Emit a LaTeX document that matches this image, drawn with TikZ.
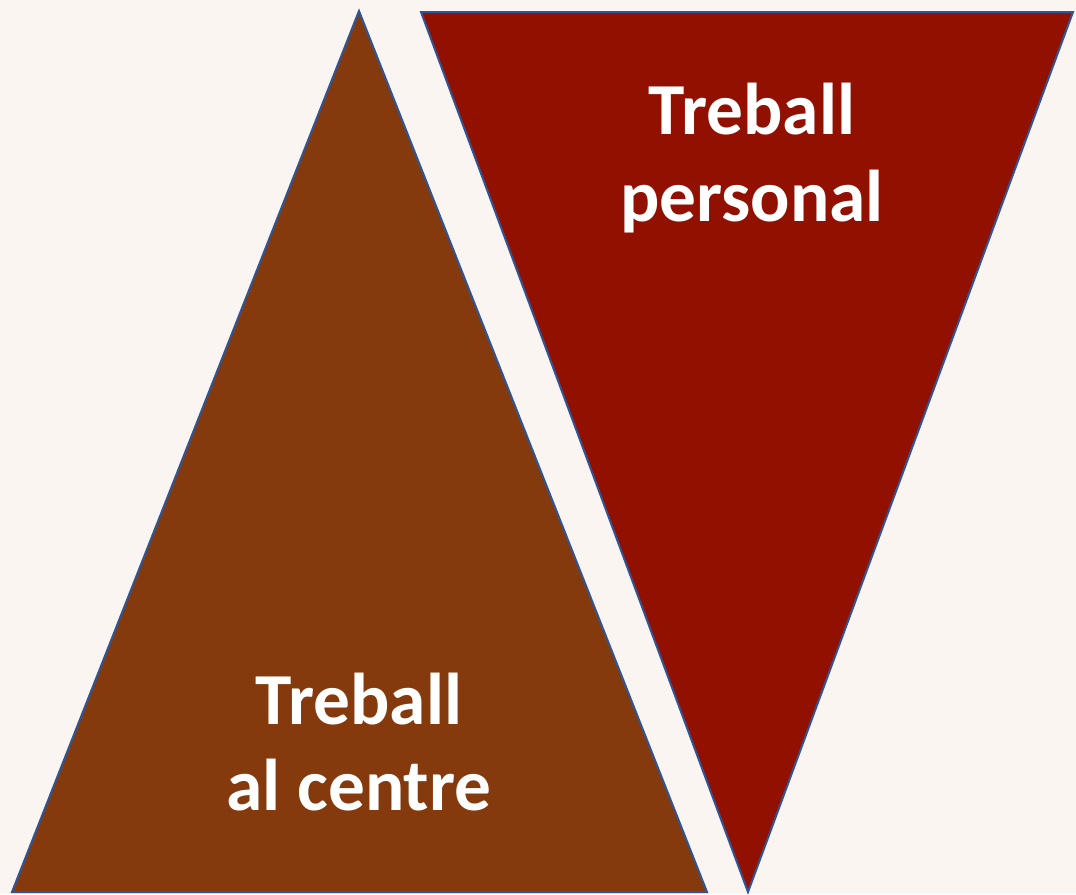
\documentclass[tikz,border=0pt]{standalone}
\usepackage{fontspec}
\setmainfont{Carlito}
\definecolor{pagebg}{RGB}{250,245,241}
\definecolor{centrebrown}{RGB}{132,58,12}
\definecolor{personalred}{RGB}{146,16,0}
\definecolor{edgeblue}{RGB}{47,85,151}
\tikzset{every picture/.style={line width=0.75pt}}
\tikzset{
  tri/.style={draw=edgeblue, line width=1.5pt, line join=miter},
  lbl/.style={text=white, align=center, inner sep=0pt,
    font=\fontsize{55}{65}\selectfont\bfseries}
}

\begin{document}
\begin{tikzpicture}[x=0.75pt,y=0.75pt,yscale=-1,xscale=1]
    \fill [pagebg] (0,0) rectangle (1076,894);
    % triangle pointing up
    \draw [tri, fill=centrebrown] (359,11) -- (707,892) -- (12,892) -- cycle ;
    % triangle pointing down
    \draw [tri, fill=personalred] (421,12) -- (1073,12) -- (748,892) -- cycle ;
    \node [lbl] (personal) at (752,158) {Treball\\personal};
    \node [lbl] (centre) at (359,742) {Treball\\al centre};
\end{tikzpicture}
\end{document}
